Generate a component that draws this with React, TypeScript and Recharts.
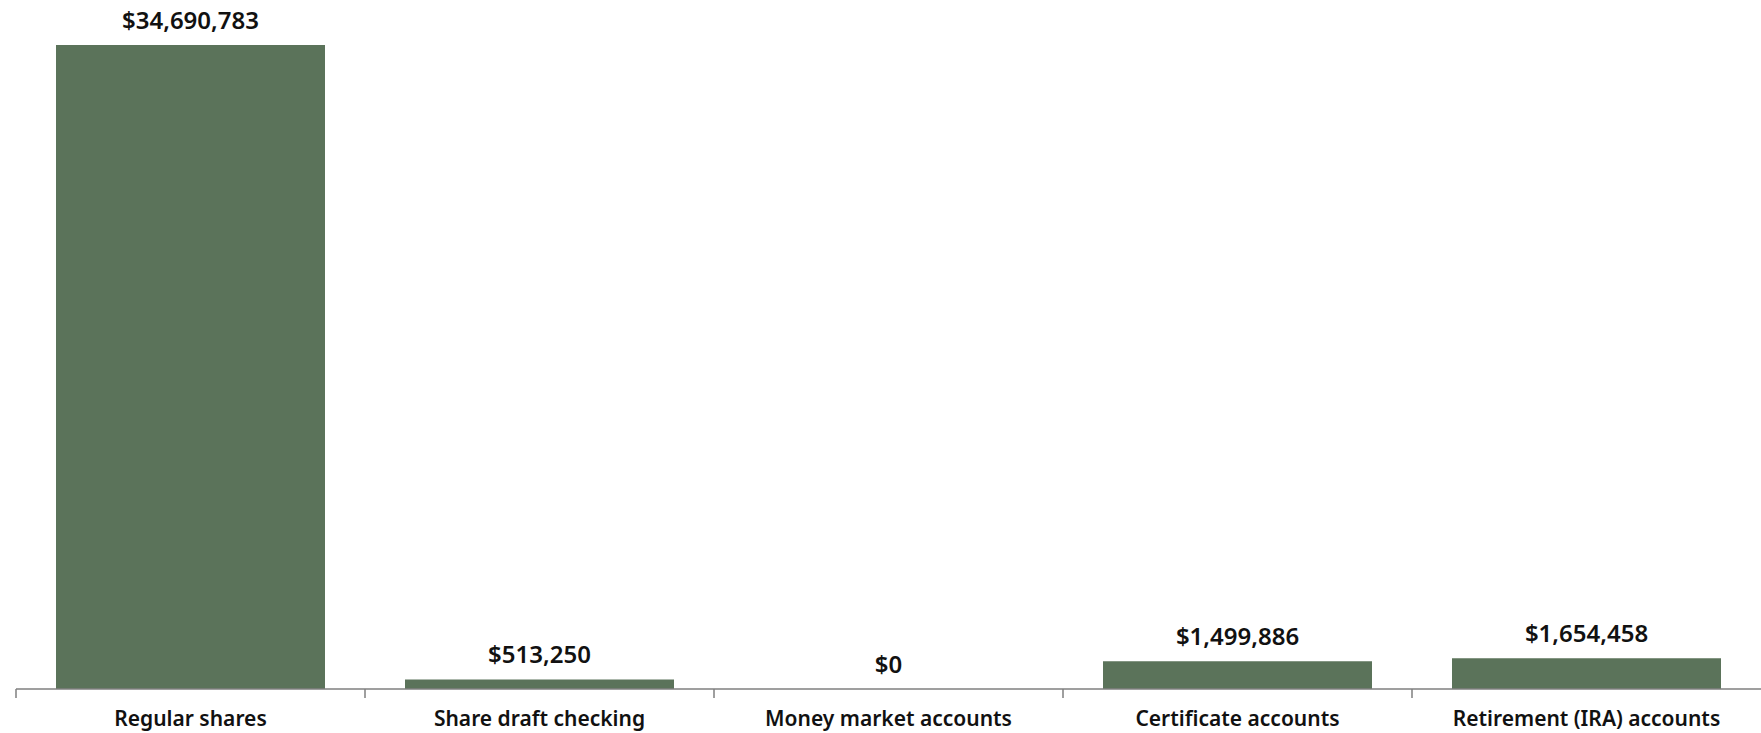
import React from 'react';
import { ComposedChart, Bar, Line, XAxis, YAxis, LabelList } from 'recharts';

const categories = ['Regular shares', 'Share draft checking', 'Money market accounts', 'Certificate accounts', 'Retirement (IRA) accounts'];
const balances = [34690783, 513250, 0, 1499886, 1654458];

const data = categories.map((name, i) => ({ name, value: balances[i] }));

const FONT = '"Noto Sans", "Open Sans", sans-serif';
const BAR_COLOR = '#5b735a';
const AXIS_COLOR = '#7f7f7f';

const fmt = (v: number) => '$' + v.toLocaleString('en-US');

const BoundaryTick = (props: any) => {
  const { x, y, payload } = props;
  const half = payload && payload.offset ? payload.offset : 0;
  return (
    <g>
      <line x1={x - half} y1={y - 8} x2={x - half} y2={y + 1} stroke={AXIS_COLOR} strokeWidth={1.5} />
      <text x={x} y={y + 29} textAnchor="middle" fontFamily={FONT} fontWeight={600} fontSize={21} fill="#111">
        {payload.value}
      </text>
    </g>
  );
};

export default function App() {
  return (
    <div style={{ position: 'absolute', left: 0, top: 0, background: '#fff' }}>
      <ComposedChart width={1761} height={733} data={data} margin={{ top: 45, right: 0, bottom: 0, left: 16 }} barSize={269}>
        <XAxis
          dataKey="name"
          height={44}
          axisLine={{ stroke: AXIS_COLOR, strokeWidth: 1.5 }}
          tickLine={false}
          tick={<BoundaryTick />}
          interval={0}
        />
        <YAxis hide domain={[0, 'dataMax']} />
        <Bar dataKey="value" fill={BAR_COLOR} isAnimationActive={false} />
        <Line dataKey="value" stroke="none" dot={false} activeDot={false} isAnimationActive={false}>
          <LabelList
            dataKey="value"
            position="top"
            offset={16}
            formatter={(v: any) => fmt(Number(v))}
            style={{ fontFamily: FONT, fontWeight: 600, fontSize: 24, fill: '#111' }}
          />
        </Line>
      </ComposedChart>
    </div>
  );
}
